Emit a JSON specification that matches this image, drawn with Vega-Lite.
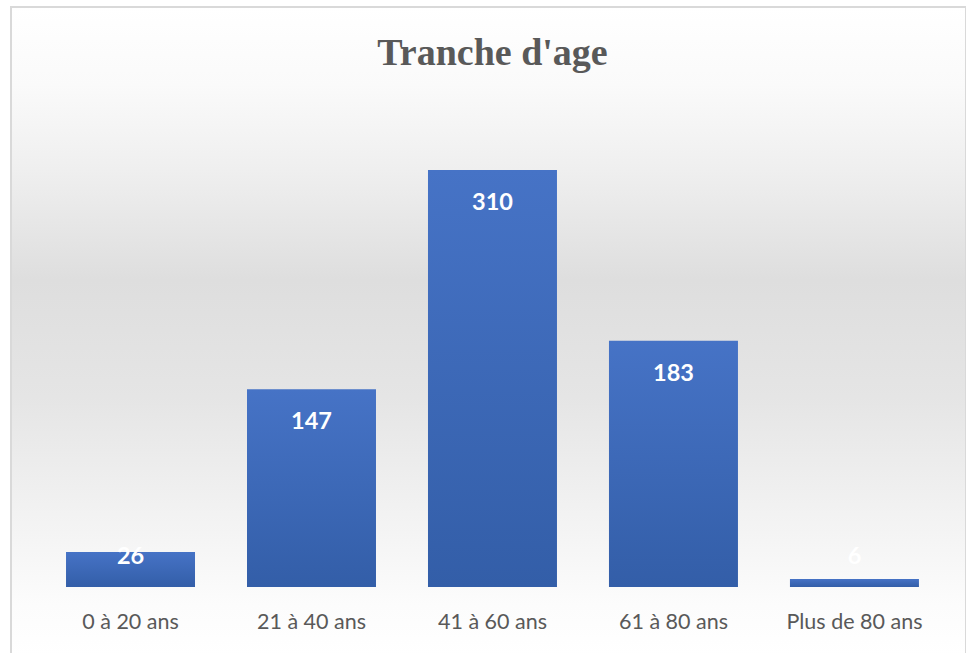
{
  "$schema": "https://vega.github.io/schema/vega-lite/v6.json",
  "autosize": {"type": "none"},
  "padding": {"left": 11, "top": 7, "right": 0, "bottom": 0},
  "width": 955,
  "height": 650,
  "background": "#ffffff",
  "title": {
    "text": "Tranche d'age",
    "font": "Liberation Serif",
    "fontSize": 38,
    "fontWeight": "bold",
    "color": "#595959",
    "anchor": "middle",
    "baseline": "alphabetic",
    "offset": -96,
    "dx": 4
  },
  "data": {
    "values": [
      {"tranche": "0 à 20 ans", "effectif": 26},
      {"tranche": "21 à 40 ans", "effectif": 147},
      {"tranche": "41 à 60 ans", "effectif": 310},
      {"tranche": "61 à 80 ans", "effectif": 183},
      {"tranche": "Plus de 80 ans", "effectif": 6}
    ]
  },
  "encoding": {
    "x": {
      "field": "tranche",
      "type": "nominal",
      "sort": null,
      "title": null,
      "scale": {"paddingInner": 0.2873, "paddingOuter": 0.282, "align": 0.539},
      "axis": {
        "offset": -70,
        "domain": false,
        "ticks": false,
        "grid": false,
        "labelAngle": 0,
        "labelFont": "Lato",
        "labelFontSize": 21.5,
        "labelColor": "#595959",
        "labelPadding": 24
      }
    }
  },
  "layer": [
    {
      "mark": {
        "type": "bar",
        "color": {
          "gradient": "linear",
          "x1": 0, "y1": 0, "x2": 0, "y2": 1,
          "stops": [
            {"offset": 0, "color": "#4673c6"},
            {"offset": 1, "color": "#335ea8"}
          ]
        }
      },
      "encoding": {
        "y": {
          "field": "effectif",
          "type": "quantitative",
          "scale": {"domain": [-52.04, 431.16], "nice": false, "zero": false},
          "axis": null
        }
      }
    },
    {
      "transform": [{"filter": "datum.effectif >= 50"}],
      "mark": {
        "type": "text",
        "font": "Lato",
        "fontSize": 23.5,
        "fontWeight": "bold",
        "color": "#ffffff",
        "baseline": "middle",
        "dy": 33
      },
      "encoding": {
        "y": {"field": "effectif", "type": "quantitative", "scale": {"domain": [-52.04, 431.16], "nice": false, "zero": false}},
        "text": {"field": "effectif", "type": "quantitative"}
      }
    },
    {
      "transform": [{"filter": "datum.effectif < 50"}],
      "mark": {
        "type": "text",
        "font": "Lato",
        "fontSize": 23.5,
        "fontWeight": "bold",
        "color": "#ffffff",
        "baseline": "middle",
        "dy": -30
      },
      "encoding": {
        "y": {"datum": 0, "type": "quantitative", "scale": {"domain": [-52.04, 431.16], "nice": false, "zero": false}},
        "text": {"field": "effectif", "type": "quantitative"}
      }
    }
  ],
  "config": {
    "view": {
      "stroke": "#d9d9d9",
      "strokeWidth": 2,
      "fill": {
        "gradient": "linear",
        "x1": 0, "y1": 0, "x2": 0, "y2": 1,
        "stops": [
          {"offset": 0, "color": "#ffffff"},
          {"offset": 0.12, "color": "#fafafa"},
          {"offset": 0.25, "color": "#efefef"},
          {"offset": 0.42, "color": "#dedede"},
          {"offset": 0.6, "color": "#e5e5e5"},
          {"offset": 0.78, "color": "#f2f2f2"},
          {"offset": 0.92, "color": "#fcfcfc"},
          {"offset": 1, "color": "#ffffff"}
        ]
      }
    }
  }
}
